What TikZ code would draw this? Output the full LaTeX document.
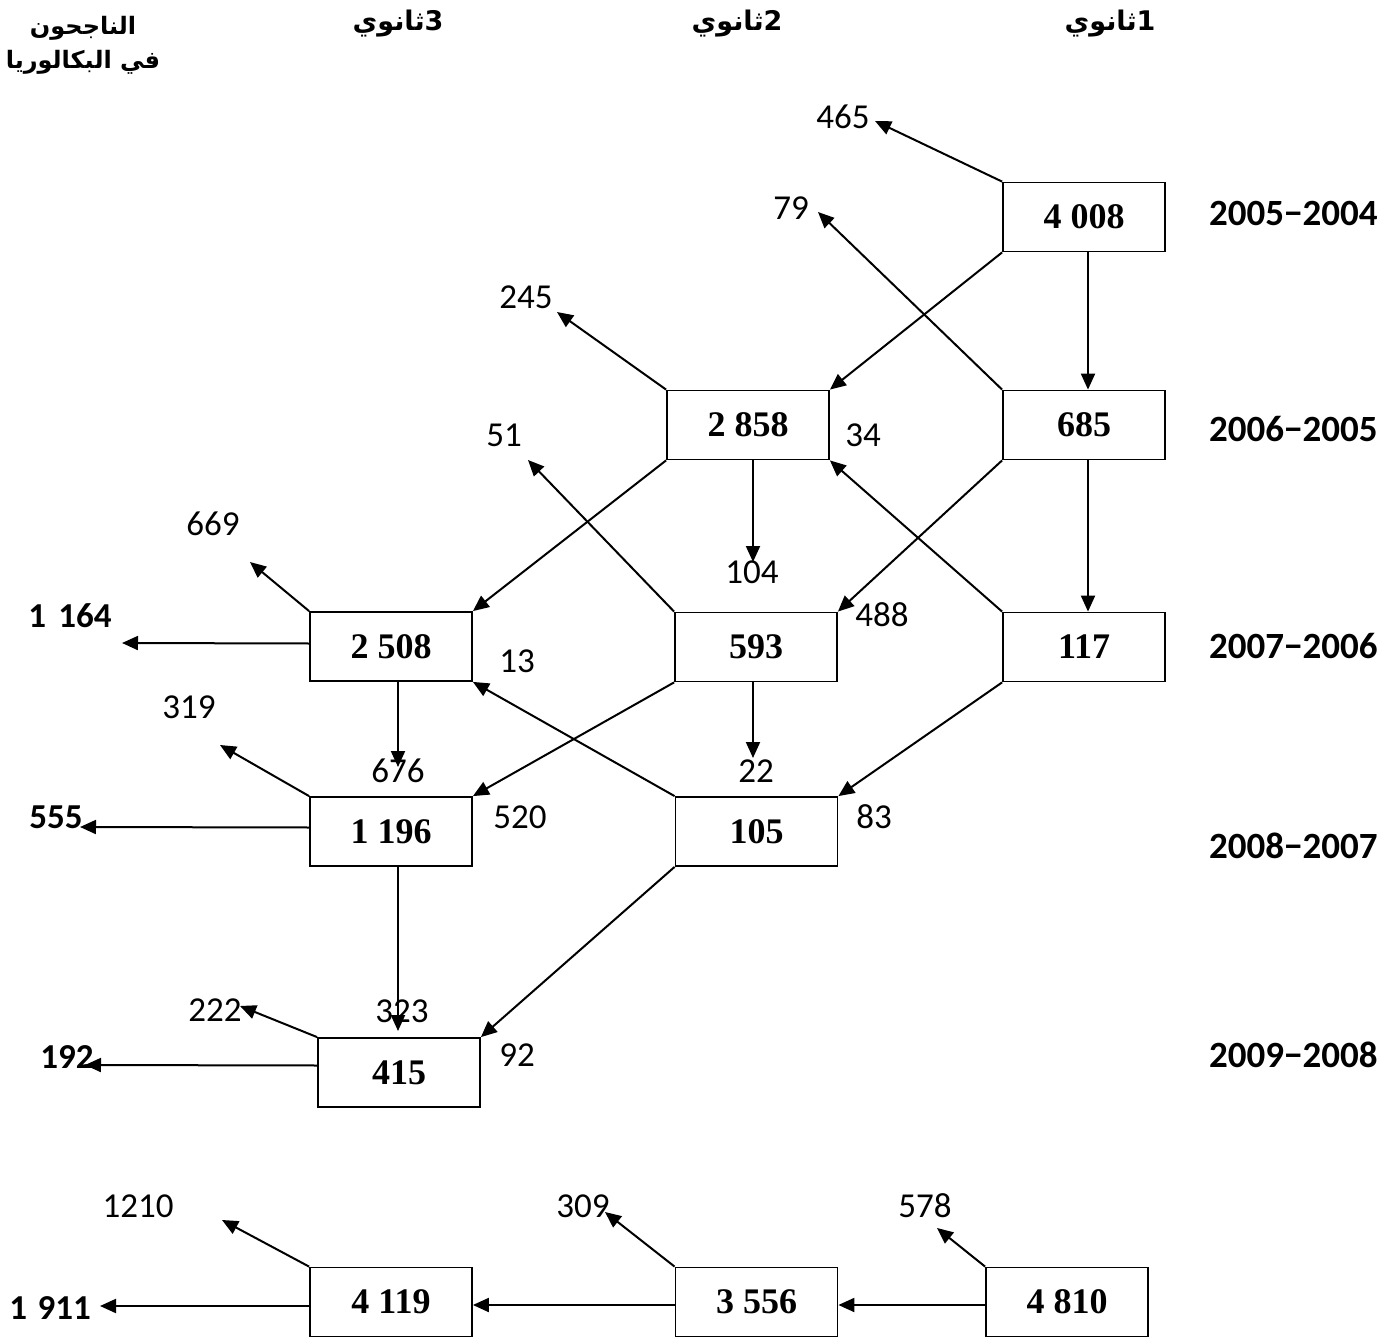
\documentclass[tikz,border=0pt]{standalone}
\usepackage{fontspec}
\setmainfont{Liberation Serif}
\newfontfamily\calib{Carlito}
\newfontfamily\arabicfont[Script=Arabic]{DejaVu Sans}
\TeXXeTstate=1
\usetikzlibrary{arrows.meta}

\tikzset{
  box/.style={draw, line width=0.9pt, minimum width=81pt, minimum height=34.5pt,
    inner sep=0pt, font=\fontsize{18}{20}\selectfont\bfseries},
  flow/.style={line width=1pt, -{Triangle[length=8pt,width=7pt]}},
  num/.style={font=\calib\fontsize{17.5}{19}\selectfont, inner sep=0pt},
  outnum/.style={font=\calib\bfseries\fontsize{17.5}{19}\selectfont, inner sep=0pt},
  year/.style={font=\calib\bfseries\fontsize{18.5}{20}\selectfont, inner sep=0pt, anchor=east},
  head/.style={font=\arabicfont\bfseries\fontsize{13.5}{15}\selectfont, inner sep=0pt, align=center},
}

\begin{document}
\begin{tikzpicture}[x=0.5pt, y=-0.5pt]
\useasboundingbox (0,0) rectangle (1399,1338);

% column headings
\node[head] (h1) at (1110,24) {\beginR ثانوي\endR 1};
\node[head] (h2) at (737,24) {\beginR ثانوي\endR 2};
\node[head] (h3) at (398,24) {\beginR ثانوي\endR 3};
\node[head, font=\arabicfont\bfseries\fontsize{12}{14}\selectfont] (h4) at (83,45)
  {\beginR الناجحون\endR\\[3pt] \beginR في البكالوريا\endR};

% school years
\node[year] (y1) at (1378,213) {2005−2004};
\node[year] (y2) at (1378,429) {2006−2005};
\node[year] (y3) at (1378,646) {2007−2006};
\node[year] (y4) at (1378,846) {2008−2007};
\node[year] (y5) at (1378,1055) {2009−2008};

% cohort boxes
\node[box] (b4008) at (1084,217) {4 008};
\node[box] (b685)  at (1084,425) {685};
\node[box] (b2858) at (748,425) {2 858};
\node[box] (b117)  at (1084,647) {117};
\node[box] (b593)  at (756,647) {593};
\node[box] (b2508) at (391,646.5) {2 508};
\node[box] (b105)  at (756.5,831.5) {105};
\node[box] (b1196) at (391,831.5) {1 196};
\node[box] (b415)  at (399,1072.5) {415};
\node[box] (b4119) at (391,1302) {4 119};
\node[box] (b3556) at (756.5,1302) {3 556};
\node[box] (b4810) at (1067,1302) {4 810};

% free ends of the leaving arrows
\coordinate (c465) at (875,121);
\coordinate (c79) at (818,212);
\coordinate (c245) at (557,312);
\coordinate (c104) at (753,562);
\coordinate (c51) at (528,460);
\coordinate (c22) at (753,758);
\coordinate (c669) at (250,562);
\coordinate (c1164) at (122,643);
\coordinate (c676) at (398,767);
\coordinate (c319) at (220,745);
\coordinate (c555) at (80,827);
\coordinate (c323) at (398,1031);
\coordinate (c222) at (240,1006);
\coordinate (c192) at (85,1065);
\coordinate (c578) at (937,1228);
\coordinate (c309) at (605,1212);
\coordinate (c1210) at (222,1220);
\coordinate (c1911) at (100,1306);

% arrows
\draw[flow] (b4008.north west) -- (c465);
\draw[flow] (b4008.south west) -- (b2858.north east);
\draw[flow] ([xshift=2pt]b4008.south) -- ([xshift=2pt]b685.north);
\draw[flow] (b685.north west) -- (c79);
\draw[flow] (b685.south west) -- (b593.north east);
\draw[flow] ([xshift=2pt]b685.south) -- ([xshift=2pt]b117.north);
\draw[flow] (b2858.north west) -- (c245);
\draw[flow] (b2858.south west) -- (b2508.north east);
\draw[flow] ([xshift=2.5pt]b2858.south) -- (c104);
\draw[flow] (b117.north west) -- (b2858.south east);
\draw[flow] (b117.south west) -- (b105.north east);
\draw[flow] (b593.north west) -- (c51);
\draw[flow] (b593.south west) -- (b1196.north east);
\draw[flow] ([xshift=-1.5pt]b593.south) -- (c22);
\draw[flow] (b2508.north west) -- (c669);
\draw[flow] ([yshift=1.5pt]b2508.west) -- (c1164);
\draw[flow] ([xshift=3.5pt]b2508.south) -- (c676);
\draw[flow] (b105.north west) -- (b2508.south east);
\draw[flow] (b105.south west) -- (b415.north east);
\draw[flow] (b1196.north west) -- (c319);
\draw[flow] ([yshift=2pt]b1196.west) -- (c555);
\draw[flow] ([xshift=3.5pt]b1196.south) -- (c323);
\draw[flow] (b415.north west) -- (c222);
\draw[flow] ([yshift=3.5pt]b415.west) -- (c192);
\draw[flow] (b4810.north west) -- (c578);
\draw[flow] ([yshift=-1.5pt]b4810.west) -- ([yshift=-1.5pt]b3556.east);
\draw[flow] (b3556.north west) -- (c309);
\draw[flow] ([yshift=-1.5pt]b3556.west) -- ([yshift=-1.5pt]b4119.east);
\draw[flow] (b4119.north west) -- (c1210);
\draw[flow] ([yshift=-2pt]b4119.west) -- (c1911);

% flow figures
\node[num] (n465) at (843,117) {465};
\node[num] (n79) at (791,208) {79};
\node[num] (n245) at (526,297) {245};
\node[num] (n34) at (863,435) {34};
\node[num] (n104) at (752,572) {104};
\node[num] (n51) at (504,435) {51};
\node[num] (n488) at (882,615) {488};
\node[num] (n669) at (213,524) {669};
\node[num] (n13) at (517,661) {13};
\node[num] (n319) at (189,707) {319};
\node[num] (n676) at (398,771) {676};
\node[num] (n22) at (756,771) {22};
\node[num] (n520) at (520,817) {520};
\node[num] (n83) at (874,817) {83};
\node[num] (n323) at (402,1011) {323};
\node[num] (n222) at (215,1010) {222};
\node[num] (n92) at (517,1055) {92};
\node[num] (n1210) at (138,1206) {1210};
\node[num] (n309) at (583,1206) {309};
\node[num] (n578) at (925,1206) {578};

% bac graduates
\node[outnum] (o1164) at (70,616) {1\hspace{0.35em}164};
\node[outnum] (o555) at (56,817) {555};
\node[outnum] (o192) at (67,1057) {192};
\node[outnum] (o1911) at (50,1308) {1\hspace{0.3em}911};
\end{tikzpicture}
\end{document}
